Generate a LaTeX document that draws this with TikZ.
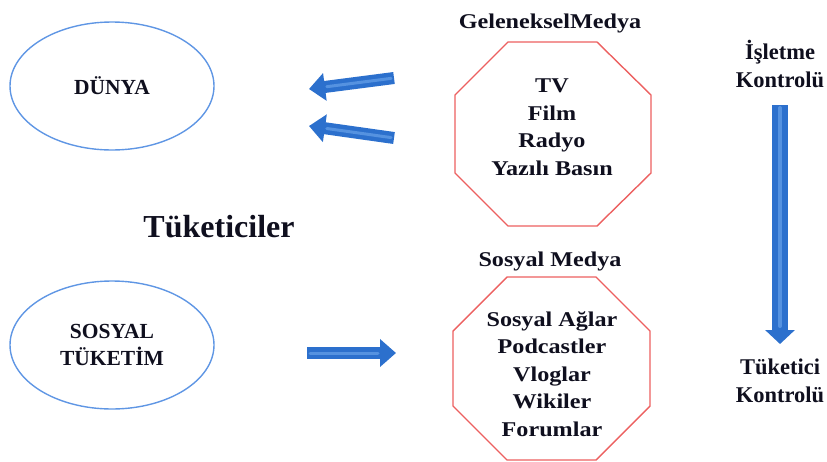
\documentclass[tikz,border=0pt]{standalone}
\usepackage{fontspec}
\setmainfont{Liberation Serif}
\newfontfamily\widefont{Liberation Serif}[FakeStretch=1.15]
\usetikzlibrary{arrows.meta,shapes.geometric}
\definecolor{ellblue}{RGB}{95,150,228}
\definecolor{octred}{RGB}{236,96,96}
\definecolor{arrowblue}{RGB}{44,112,205}
\definecolor{arrowlight}{RGB}{120,175,240}
\definecolor{ink}{RGB}{15,15,30}
\begin{document}
\begin{tikzpicture}[x=1pt,y=-1pt,
  oval/.style={draw=ellblue, line width=1.4pt, ellipse,
    minimum width=204pt, minimum height=128pt, inner sep=0pt,
    text=ink, align=center, font=\fontsize{21.5}{27}\selectfont\bfseries},
  octagon/.style={draw=octred, line width=1.4pt},
  medtext/.style={text=ink, align=center, inner sep=0pt,
    font=\widefont\fontsize{21}{27.5}\selectfont\bfseries},
  sidetext/.style={text=ink, align=center, inner sep=0pt,
    font=\fontsize{22.5}{28}\selectfont\bfseries},
  fat/.style={line width=12pt, arrowblue, -{Triangle[length=16pt,width=27pt]}},
  fatshine/.style={line width=3pt, arrowlight, opacity=0.55, line cap=round,
    shorten >=18pt, shorten <=3pt},
]
\useasboundingbox (0,0) rectangle (827,461);

% consumer side
\node[oval] (dunya) at (112,86) {DÜNYA};
\node[oval] (sosyal) at (112,345) {SOSYAL\\TÜKETİM};
\node[text=ink, inner sep=0pt, anchor=base,
  font=\fontsize{32}{36}\selectfont\bfseries] (tuketiciler) at (219,237) {Tüketiciler};

% traditional media
\draw[octagon] (508,42) -- (597,42) -- (651,95) -- (651,173) -- (597,226)
  -- (508,226) -- (455,173) -- (455,95) -- cycle;
\node[medtext, anchor=base] (gelTitle) at (550,28) {GelenekselMedya};
\node[medtext] (gelList) at (552,127) {TV\\Film\\Radyo\\Yazılı Basın};

% social media
\draw[octagon] (507,277) -- (596,277) -- (650,331) -- (650,406) -- (596,460)
  -- (507,460) -- (453,406) -- (453,331) -- cycle;
\node[medtext, anchor=base] (sosTitle) at (550,266) {Sosyal Medya};
\node[medtext] (sosList) at (552,374) {Sosyal Ağlar\\Podcastler\\Vloglar\\Wikiler\\Forumlar};

% control axis
\node[sidetext] (isletme) at (780,64) {İşletme\\Kontrolü};
\node[sidetext] (tuketici) at (780,381) {Tüketici\\Kontrolü};

% block arrows
\coordinate (a1s) at (394,78);  \coordinate (a1e) at (309,89);
\coordinate (a2s) at (394,138); \coordinate (a2e) at (309,126);
\coordinate (a3s) at (307,353); \coordinate (a3e) at (396,353);
\coordinate (a4s) at (780,105); \coordinate (a4e) at (780,344);
\draw[fat] (a1s) -- (a1e);
\draw[fat] (a2s) -- (a2e);
\draw[fat] (a3s) -- (a3e);
\draw[fat, line width=16pt, -{Triangle[length=14pt,width=29pt]}] (a4s) -- (a4e);
\draw[fatshine] (a1s) -- (a1e);
\draw[fatshine] (a2s) -- (a2e);
\draw[fatshine] (a3s) -- (a3e);
\draw[fatshine, line width=4pt] (a4s) -- (a4e);
\end{tikzpicture}
\end{document}
